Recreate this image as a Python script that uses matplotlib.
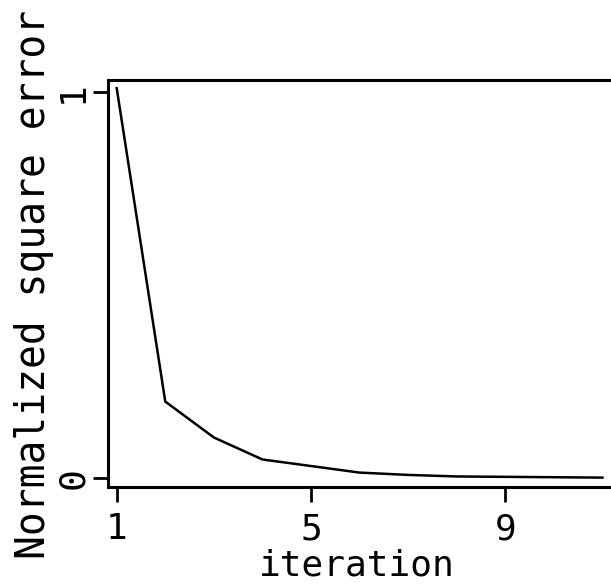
import numpy as np
import matplotlib.pyplot as plt

# error per iteration
iterations = [1, 2, 3, 4, 5, 6, 7, 8, 9, 10, 11]
norm_sq_err = [1.01, 0.198, 0.105, 0.048, 0.031, 0.014, 0.008, 0.004, 0.003, 0.002, 0.001]

x_ticks = [1, 5, 9]
y_ticks = [0, 1]

FONT = "DejaVu Sans Mono"

fig = plt.figure(figsize=(6.11, 5.85), dpi=100)
W, H = 611, 585
left, right, top, bottom = 107.7, 640, 80, 487  # axes box in pixels
ax = fig.add_axes([left / W, 1 - bottom / H, (right - left) / W, (bottom - top) / H])

ax.plot(iterations, norm_sq_err, color="black", linewidth=1.8)

# 1 -> 116.7 px, 5 -> 311 px  => 48.6 px per unit
ppu = (311 - 116.7) / 4
ax.set_xlim(1 - (116.7 - left) / ppu, 1 + (right - 116.7) / ppu)
# 0 -> 478 px, 1 -> 92 px
ppv = 478 - 92
ax.set_ylim(-(bottom - 478) / ppv, 1 + (92 - top) / ppv)

ax.set_xticks(x_ticks)
ax.set_yticks(y_ticks)
ax.set_xticklabels([str(t) for t in x_ticks], fontfamily=FONT, fontsize=26)
ax.set_yticklabels([str(t) for t in y_ticks], fontfamily=FONT, fontsize=26,
                   rotation=90, va="center")

ax.tick_params(axis="both", direction="out", length=11, width=2, color="black")
ax.tick_params(axis="x", pad=7)
ax.tick_params(axis="y", pad=2)

for s in ["left", "top", "bottom"]:
    ax.spines[s].set_linewidth(2.2)
ax.spines["right"].set_visible(False)

fig.text(356.5 / W, 1 - 576 / H, "iteration", fontfamily=FONT, fontsize=26,
         ha="center", va="baseline")
fig.text(45 / W, 1 - 284 / H, "Normalized square error", fontfamily=FONT,
         fontsize=28.5, rotation=90, rotation_mode="anchor",
         ha="center", va="baseline")

fig.savefig("out.png", dpi=100)
